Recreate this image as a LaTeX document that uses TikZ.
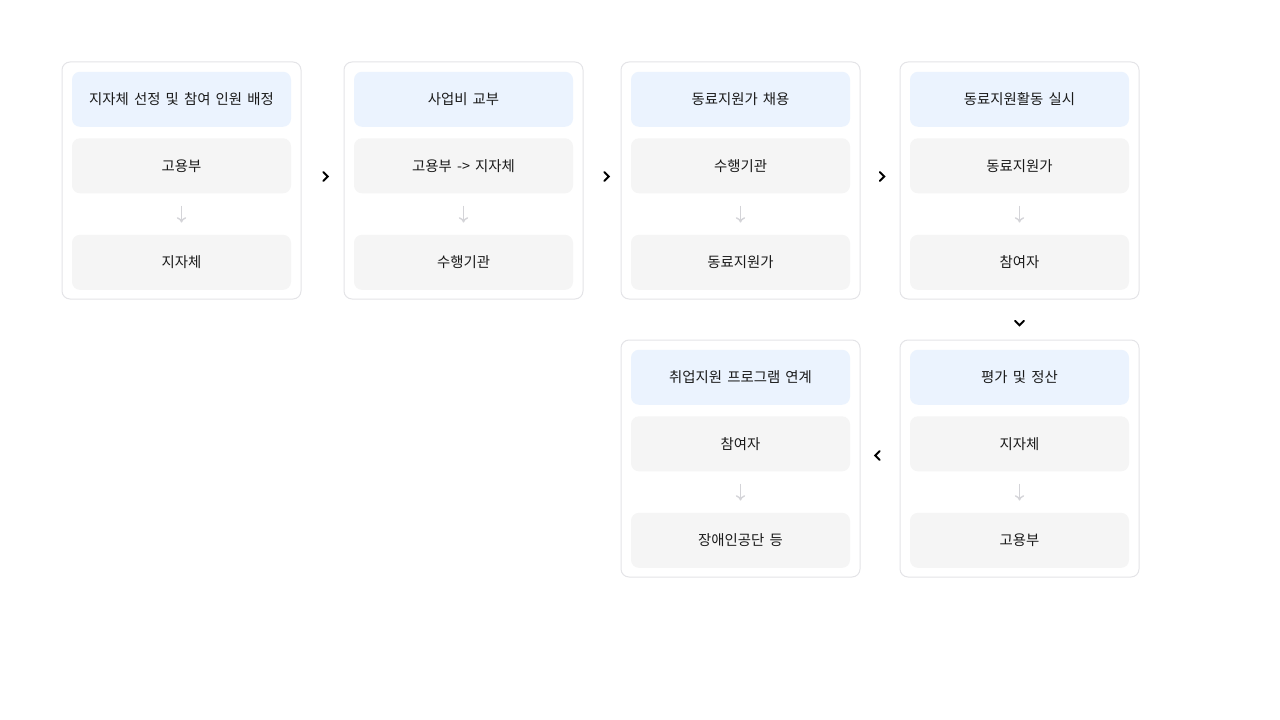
\documentclass[tikz,border=0pt]{standalone}
\usepackage{fontspec}
\setmainfont[WordSpace=1.6]{Noto Sans CJK KR}
\usepackage{tikz}
\usetikzlibrary{positioning, calc}
\usetikzlibrary{arrows.meta}
\definecolor{cardline}{HTML}{E4E4E7}
\definecolor{headfill}{HTML}{EBF3FE}
\definecolor{rowfill}{HTML}{F5F5F5}
\definecolor{arrowgray}{HTML}{D4D4D8}
\definecolor{inktext}{HTML}{1A1A1A}
\tikzstyle{cardbox}=[rectangle,draw=cardline,line width=0.75pt,fill=white,
rounded corners=6pt,minimum width=179.25pt,minimum height=177.75pt]
\tikzstyle{headbox}=[rectangle,fill=headfill,rounded corners=6pt,
minimum width=164.25pt,minimum height=41.25pt,text=inktext,
font=\fontsize{10.8pt}{13pt}\selectfont]
\tikzstyle{rowbox}=[headbox,fill=rowfill]
\tikzstyle{downpath} = [-{To[length=4pt,width=7pt]},arrowgray,line width=1pt,
shorten >=9pt,shorten <=9pt]
\tikzstyle{chevron} = [black,line width=1.5pt,line cap=round,line join=miter]

\begin{document}
\begin{tikzpicture}[x=0.75pt,y=-0.75pt]
    \useasboundingbox (0,0) rectangle (1280,720);
    % top row
    \node[cardbox] (c1) at (181.5,180.5) {};
    \node[cardbox] (c2) at (463.5,180.5) {};
    \node[cardbox] (c3) at (740.5,180.5) {};
    \node[cardbox] (c4) at (1019.5,180.5) {};
    % bottom row
    \node[cardbox] (c5) at (1019.5,458.5) {};
    \node[cardbox] (c6) at (740.5,458.5) {};

    \node[headbox, below=7.5pt of c1.north] (h1) {지자체 선정 및 참여 인원 배정};
    \node[rowbox, below=8.25pt of h1] (a1) {고용부};
    \node[rowbox, below=30.75pt of a1] (b1) {지자체};

    \node[headbox, below=7.5pt of c2.north] (h2) {사업비 교부};
    \node[rowbox, below=8.25pt of h2] (a2) {고용부 -> 지자체};
    \node[rowbox, below=30.75pt of a2] (b2) {수행기관};

    \node[headbox, below=7.5pt of c3.north] (h3) {동료지원가 채용};
    \node[rowbox, below=8.25pt of h3] (a3) {수행기관};
    \node[rowbox, below=30.75pt of a3] (b3) {동료지원가};

    \node[headbox, below=7.5pt of c4.north] (h4) {동료지원활동 실시};
    \node[rowbox, below=8.25pt of h4] (a4) {동료지원가};
    \node[rowbox, below=30.75pt of a4] (b4) {참여자};

    \node[headbox, below=7.5pt of c5.north] (h5) {평가 및 정산};
    \node[rowbox, below=8.25pt of h5] (a5) {지자체};
    \node[rowbox, below=30.75pt of a5] (b5) {고용부};

    \node[headbox, below=7.5pt of c6.north] (h6) {취업지원 프로그램 연계};
    \node[rowbox, below=8.25pt of h6] (a6) {참여자};
    \node[rowbox, below=30.75pt of a6] (b6) {장애인공단 등};

    \path[downpath]
    (a1) edge (b1)
    (a2) edge (b2)
    (a3) edge (b3)
    (a4) edge (b4)
    (a5) edge (b5)
    (a6) edge (b6);

    % chevrons between cards
    \coordinate (k12) at ($(c1.east)!0.5!(c2.west)+(0.75,-8.5)$);
    \coordinate (k23) at ($(c2.east)!0.5!(c3.west)+(2.25,-8.5)$);
    \coordinate (k34) at ($(c3.east)!0.5!(c4.west)+(-0.25,-8.5)$);
    \coordinate (k45) at ($(c4.south)!0.5!(c5.north)+(-4.5,1.25)$);
    \coordinate (k56) at ($(c5.west)!0.5!(c6.east)+(-0.25,-7.5)$);
    \draw[chevron] (k12) -- ++(4.5,4.5) -- ++(-4.5,4.5);
    \draw[chevron] (k23) -- ++(4.5,4.5) -- ++(-4.5,4.5);
    \draw[chevron] (k34) -- ++(4.5,4.5) -- ++(-4.5,4.5);
    \draw[chevron] (k45) -- ++(4.5,4.5) -- ++(4.5,-4.5);
    \draw[chevron] (k56) -- ++(-4.5,4.5) -- ++(4.5,4.5);
\end{tikzpicture}
\end{document}
